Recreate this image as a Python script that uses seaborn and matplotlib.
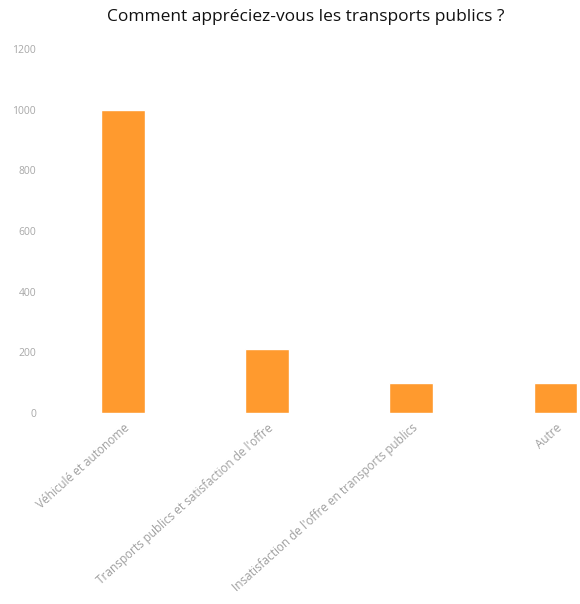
import matplotlib
matplotlib.use("Agg")
import matplotlib.pyplot as plt
import seaborn as sns

# Survey answers and counts
categories = [
    "Véhiculé et autonome",
    "Transports publics et satisfaction de l'offre",
    "Insatisfaction de l'offre en transports publics",
    "Autre",
]
counts = [1000, 210, 100, 100]
y_ticks = [0, 200, 400, 600, 800, 1000, 1200]

sns.set_style("white")
plt.rcParams["font.family"] = ["Open Sans", "DejaVu Sans"]

fig = plt.figure(figsize=(5.8, 6.04), dpi=100)
ax = fig.add_axes([0.086, 0.316, 0.914, 0.603])

sns.barplot(x=categories, y=counts, color="#FF9A2E", width=0.305,
            saturation=1, ax=ax)

ax.set_xlim(-0.51, 3.17)
ax.set_ylim(0, 1200)
ax.set_yticks(y_ticks)
ax.set_yticklabels([str(t) for t in y_ticks], fontsize=7.5, color="#a8a8a8")
ax.tick_params(axis="y", length=0, pad=10)
ax.tick_params(axis="x", length=0, pad=6)
for lbl in ax.get_xticklabels():
    lbl.set_rotation(42)
    lbl.set_ha("right")
    lbl.set_rotation_mode("anchor")
    lbl.set_fontsize(8.5)
    lbl.set_color("#a0a0a0")

sns.despine(ax=ax, left=True, bottom=True)
ax.set_xlabel("")
ax.set_ylabel("")

fig.text(0.528, 0.972, "Comment appréciez-vous les transports publics ?",
         ha="center", va="center", fontsize=12.5, color="#111111")

fig.savefig("out.png", dpi=100)
